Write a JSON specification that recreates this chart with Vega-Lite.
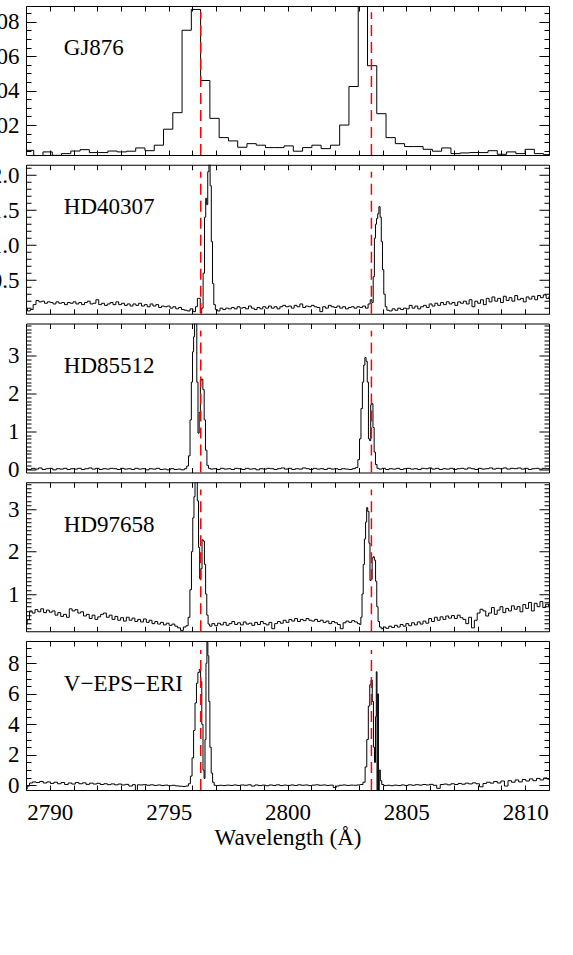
{
"$schema": "https://vega.github.io/schema/vega-lite/v6.json",
"padding": {"left": -22, "top": 5, "right": 5, "bottom": 5},
"background": "#ffffff",
"spacing": 9.75,
"bounds": "flush",
"config": {
  "view": {"stroke": "#000000", "strokeWidth": 1},
  "text": {"font": "Liberation Serif"},
  "axis": {"domain": false, "grid": false, "labelFont": "Liberation Serif", "labelFontSize": 23, "labelColor": "#000000", "tickColor": "#000000", "tickWidth": 1, "titleFont": "Liberation Serif", "titleFontSize": 23, "titleColor": "#000000", "titleFontWeight": "normal", "labelOverlap": false, "labelFlush": false}
},
"datasets": {
  "lines": [{"w": 2796.35}, {"w": 2803.53}],
  "gj": [{"w":2788.74,"f":0.0053},{"w":2789.13,"f":0.0053},{"w":2789.52,"f":0.0022},{"w":2789.91,"f":0.0044},{"w":2790.30,"f":0.0024},{"w":2790.69,"f":0.0034},{"w":2791.08,"f":0.0049},{"w":2791.47,"f":0.0057},{"w":2791.86,"f":0.0040},{"w":2792.25,"f":0.0040},{"w":2792.64,"f":0.0049},{"w":2793.03,"f":0.0044},{"w":2793.42,"f":0.0048},{"w":2793.81,"f":0.0067},{"w":2794.20,"f":0.0051},{"w":2794.59,"f":0.0083},{"w":2794.98,"f":0.0176},{"w":2795.37,"f":0.0272},{"w":2795.76,"f":0.0751},{"w":2796.15,"f":0.0872},{"w":2796.54,"f":0.0459},{"w":2796.93,"f":0.0239},{"w":2797.32,"f":0.0127},{"w":2797.71,"f":0.0108},{"w":2798.10,"f":0.0071},{"w":2798.49,"f":0.0092},{"w":2798.88,"f":0.0083},{"w":2799.27,"f":0.0069},{"w":2799.66,"f":0.0069},{"w":2800.05,"f":0.0079},{"w":2800.44,"f":0.0048},{"w":2800.83,"f":0.0069},{"w":2801.22,"f":0.0083},{"w":2801.61,"f":0.0063},{"w":2802.00,"f":0.0083},{"w":2802.39,"f":0.0200},{"w":2802.78,"f":0.0424},{"w":2803.17,"f":0.0910},{"w":2803.56,"f":0.0545},{"w":2803.95,"f":0.0266},{"w":2804.34,"f":0.0127},{"w":2804.73,"f":0.0092},{"w":2805.12,"f":0.0075},{"w":2805.51,"f":0.0075},{"w":2805.90,"f":0.0059},{"w":2806.29,"f":0.0048},{"w":2806.68,"f":0.0067},{"w":2807.07,"f":0.0034},{"w":2807.46,"f":0.0038},{"w":2807.85,"f":0.0040},{"w":2808.24,"f":0.0040},{"w":2808.63,"f":0.0051},{"w":2809.02,"f":0.0030},{"w":2809.41,"f":0.0044},{"w":2809.80,"f":0.0034},{"w":2810.19,"f":0.0059},{"w":2810.58,"f":0.0034},{"w":2810.97,"f":0.0028},{"w":2811.36,"f":0.0028}],
  "hd40": [{"w":2789.00,"f":0.10},{"w":2789.12,"f":0.06},{"w":2789.24,"f":0.08},{"w":2789.36,"f":0.15},{"w":2789.48,"f":0.21},{"w":2789.60,"f":0.19},{"w":2789.72,"f":0.20},{"w":2789.84,"f":0.17},{"w":2789.96,"f":0.19},{"w":2790.08,"f":0.18},{"w":2790.20,"f":0.16},{"w":2790.32,"f":0.19},{"w":2790.44,"f":0.17},{"w":2790.56,"f":0.18},{"w":2790.68,"f":0.15},{"w":2790.80,"f":0.18},{"w":2790.92,"f":0.17},{"w":2791.04,"f":0.19},{"w":2791.16,"f":0.16},{"w":2791.28,"f":0.18},{"w":2791.40,"f":0.15},{"w":2791.52,"f":0.18},{"w":2791.64,"f":0.20},{"w":2791.76,"f":0.16},{"w":2791.88,"f":0.17},{"w":2792.00,"f":0.22},{"w":2792.12,"f":0.15},{"w":2792.24,"f":0.17},{"w":2792.36,"f":0.14},{"w":2792.48,"f":0.16},{"w":2792.60,"f":0.18},{"w":2792.72,"f":0.15},{"w":2792.84,"f":0.19},{"w":2792.96,"f":0.15},{"w":2793.08,"f":0.17},{"w":2793.20,"f":0.14},{"w":2793.32,"f":0.16},{"w":2793.44,"f":0.13},{"w":2793.56,"f":0.16},{"w":2793.68,"f":0.14},{"w":2793.80,"f":0.17},{"w":2793.92,"f":0.13},{"w":2794.04,"f":0.15},{"w":2794.16,"f":0.12},{"w":2794.28,"f":0.16},{"w":2794.40,"f":0.13},{"w":2794.52,"f":0.15},{"w":2794.64,"f":0.11},{"w":2794.76,"f":0.13},{"w":2794.88,"f":0.12},{"w":2795.00,"f":0.13},{"w":2795.12,"f":0.10},{"w":2795.24,"f":0.12},{"w":2795.36,"f":0.09},{"w":2795.48,"f":0.11},{"w":2795.60,"f":0.08},{"w":2795.72,"f":0.07},{"w":2795.84,"f":0.06},{"w":2795.96,"f":0.09},{"w":2796.08,"f":0.05},{"w":2796.18,"f":0.12},{"w":2796.24,"f":0.24},{"w":2796.30,"f":0.24},{"w":2796.36,"f":0.03},{"w":2796.42,"f":0.10},{"w":2796.48,"f":0.60},{"w":2796.54,"f":1.40},{"w":2796.58,"f":1.67},{"w":2796.62,"f":1.58},{"w":2796.67,"f":2.05},{"w":2796.72,"f":2.40},{"w":2796.77,"f":1.85},{"w":2796.82,"f":1.05},{"w":2796.87,"f":0.45},{"w":2796.93,"f":0.15},{"w":2797.00,"f":0.08},{"w":2797.10,"f":0.06},{"w":2797.22,"f":0.10},{"w":2797.34,"f":0.08},{"w":2797.46,"f":0.10},{"w":2797.58,"f":0.09},{"w":2797.70,"f":0.11},{"w":2797.82,"f":0.09},{"w":2797.94,"f":0.12},{"w":2798.06,"f":0.10},{"w":2798.18,"f":0.11},{"w":2798.30,"f":0.09},{"w":2798.42,"f":0.13},{"w":2798.54,"f":0.10},{"w":2798.66,"f":0.08},{"w":2798.78,"f":0.11},{"w":2798.90,"f":0.09},{"w":2799.02,"f":0.12},{"w":2799.14,"f":0.10},{"w":2799.26,"f":0.13},{"w":2799.38,"f":0.10},{"w":2799.50,"f":0.12},{"w":2799.62,"f":0.09},{"w":2799.74,"f":0.12},{"w":2799.86,"f":0.14},{"w":2799.98,"f":0.12},{"w":2800.10,"f":0.13},{"w":2800.22,"f":0.10},{"w":2800.34,"f":0.14},{"w":2800.46,"f":0.12},{"w":2800.58,"f":0.16},{"w":2800.70,"f":0.11},{"w":2800.82,"f":0.13},{"w":2800.94,"f":0.12},{"w":2801.06,"f":0.14},{"w":2801.18,"f":0.12},{"w":2801.30,"f":0.11},{"w":2801.42,"f":0.05},{"w":2801.54,"f":0.12},{"w":2801.66,"f":0.10},{"w":2801.78,"f":0.14},{"w":2801.90,"f":0.12},{"w":2802.02,"f":0.11},{"w":2802.14,"f":0.13},{"w":2802.26,"f":0.10},{"w":2802.38,"f":0.12},{"w":2802.50,"f":0.09},{"w":2802.62,"f":0.11},{"w":2802.74,"f":0.12},{"w":2802.86,"f":0.10},{"w":2802.98,"f":0.12},{"w":2803.10,"f":0.11},{"w":2803.22,"f":0.13},{"w":2803.34,"f":0.10},{"w":2803.44,"f":0.16},{"w":2803.52,"f":0.22},{"w":2803.58,"f":0.18},{"w":2803.63,"f":0.55},{"w":2803.68,"f":1.10},{"w":2803.72,"f":1.30},{"w":2803.77,"f":1.38},{"w":2803.82,"f":1.45},{"w":2803.87,"f":1.55},{"w":2803.92,"f":1.40},{"w":2803.97,"f":1.05},{"w":2804.02,"f":0.65},{"w":2804.08,"f":0.30},{"w":2804.14,"f":0.12},{"w":2804.22,"f":0.07},{"w":2804.34,"f":0.06},{"w":2804.46,"f":0.09},{"w":2804.58,"f":0.07},{"w":2804.70,"f":0.10},{"w":2804.82,"f":0.08},{"w":2804.94,"f":0.10},{"w":2805.06,"f":0.09},{"w":2805.18,"f":0.14},{"w":2805.30,"f":0.10},{"w":2805.42,"f":0.13},{"w":2805.54,"f":0.09},{"w":2805.66,"f":0.12},{"w":2805.78,"f":0.14},{"w":2805.90,"f":0.11},{"w":2806.02,"f":0.16},{"w":2806.14,"f":0.13},{"w":2806.26,"f":0.17},{"w":2806.38,"f":0.14},{"w":2806.50,"f":0.18},{"w":2806.62,"f":0.15},{"w":2806.74,"f":0.19},{"w":2806.86,"f":0.16},{"w":2806.98,"f":0.18},{"w":2807.10,"f":0.14},{"w":2807.22,"f":0.19},{"w":2807.34,"f":0.17},{"w":2807.46,"f":0.20},{"w":2807.58,"f":0.16},{"w":2807.70,"f":0.22},{"w":2807.82,"f":0.12},{"w":2807.94,"f":0.20},{"w":2808.06,"f":0.17},{"w":2808.18,"f":0.22},{"w":2808.30,"f":0.15},{"w":2808.42,"f":0.24},{"w":2808.54,"f":0.19},{"w":2808.66,"f":0.26},{"w":2808.78,"f":0.20},{"w":2808.90,"f":0.24},{"w":2809.02,"f":0.18},{"w":2809.14,"f":0.27},{"w":2809.26,"f":0.21},{"w":2809.38,"f":0.25},{"w":2809.50,"f":0.20},{"w":2809.62,"f":0.28},{"w":2809.74,"f":0.22},{"w":2809.86,"f":0.24},{"w":2809.98,"f":0.19},{"w":2810.10,"f":0.26},{"w":2810.22,"f":0.23},{"w":2810.34,"f":0.27},{"w":2810.46,"f":0.22},{"w":2810.58,"f":0.28},{"w":2810.70,"f":0.25},{"w":2810.82,"f":0.29},{"w":2810.94,"f":0.24},{"w":2811.06,"f":0.27}],
  "hd85": [{"w":2789.00,"f":0.01},{"w":2789.15,"f":-0.01},{"w":2789.30,"f":0.02},{"w":2789.45,"f":0.00},{"w":2789.60,"f":0.03},{"w":2789.75,"f":-0.01},{"w":2789.90,"f":0.01},{"w":2790.05,"f":0.02},{"w":2790.20,"f":-0.02},{"w":2790.35,"f":0.01},{"w":2790.50,"f":0.00},{"w":2790.65,"f":0.02},{"w":2790.80,"f":-0.01},{"w":2790.95,"f":0.01},{"w":2791.10,"f":0.00},{"w":2791.25,"f":0.02},{"w":2791.40,"f":-0.01},{"w":2791.55,"f":0.01},{"w":2791.70,"f":0.03},{"w":2791.85,"f":0.00},{"w":2792.00,"f":0.02},{"w":2792.15,"f":-0.01},{"w":2792.30,"f":0.01},{"w":2792.45,"f":0.00},{"w":2792.60,"f":0.02},{"w":2792.75,"f":0.01},{"w":2792.90,"f":-0.01},{"w":2793.05,"f":0.02},{"w":2793.20,"f":0.00},{"w":2793.35,"f":0.01},{"w":2793.50,"f":-0.01},{"w":2793.65,"f":0.02},{"w":2793.80,"f":0.00},{"w":2793.95,"f":0.01},{"w":2794.10,"f":-0.02},{"w":2794.25,"f":0.01},{"w":2794.40,"f":0.00},{"w":2794.55,"f":0.02},{"w":2794.70,"f":-0.01},{"w":2794.85,"f":0.00},{"w":2795.00,"f":-0.02},{"w":2795.15,"f":0.01},{"w":2795.30,"f":-0.01},{"w":2795.45,"f":0.00},{"w":2795.60,"f":-0.02},{"w":2795.72,"f":0.01},{"w":2795.80,"f":0.08},{"w":2795.87,"f":0.35},{"w":2795.93,"f":1.30},{"w":2795.98,"f":2.30},{"w":2796.03,"f":3.10},{"w":2796.07,"f":3.50},{"w":2796.11,"f":4.20},{"w":2796.16,"f":4.20},{"w":2796.21,"f":2.30},{"w":2796.26,"f":0.95},{"w":2796.31,"f":1.50},{"w":2796.36,"f":2.35},{"w":2796.41,"f":2.38},{"w":2796.47,"f":2.10},{"w":2796.52,"f":1.30},{"w":2796.58,"f":0.50},{"w":2796.64,"f":0.10},{"w":2796.71,"f":0.02},{"w":2796.80,"f":0.00},{"w":2796.95,"f":0.01},{"w":2797.10,"f":-0.01},{"w":2797.25,"f":0.02},{"w":2797.40,"f":0.00},{"w":2797.55,"f":0.01},{"w":2797.70,"f":-0.01},{"w":2797.85,"f":0.02},{"w":2798.00,"f":0.01},{"w":2798.15,"f":-0.01},{"w":2798.30,"f":0.02},{"w":2798.45,"f":0.00},{"w":2798.60,"f":0.01},{"w":2798.75,"f":-0.02},{"w":2798.90,"f":0.01},{"w":2799.05,"f":0.00},{"w":2799.20,"f":0.02},{"w":2799.35,"f":0.01},{"w":2799.50,"f":-0.01},{"w":2799.65,"f":0.01},{"w":2799.80,"f":0.03},{"w":2799.95,"f":0.00},{"w":2800.10,"f":0.02},{"w":2800.25,"f":-0.01},{"w":2800.40,"f":0.01},{"w":2800.55,"f":0.00},{"w":2800.70,"f":0.03},{"w":2800.85,"f":0.01},{"w":2801.00,"f":-0.01},{"w":2801.15,"f":0.02},{"w":2801.30,"f":0.00},{"w":2801.45,"f":0.01},{"w":2801.60,"f":-0.01},{"w":2801.75,"f":0.02},{"w":2801.90,"f":0.00},{"w":2802.05,"f":0.01},{"w":2802.20,"f":-0.01},{"w":2802.35,"f":0.01},{"w":2802.50,"f":0.00},{"w":2802.65,"f":-0.01},{"w":2802.80,"f":0.01},{"w":2802.92,"f":0.04},{"w":2803.00,"f":0.25},{"w":2803.06,"f":0.80},{"w":2803.12,"f":1.60},{"w":2803.18,"f":2.30},{"w":2803.23,"f":2.75},{"w":2803.28,"f":2.95},{"w":2803.33,"f":2.85},{"w":2803.38,"f":2.30},{"w":2803.43,"f":0.80},{"w":2803.48,"f":0.75},{"w":2803.52,"f":1.70},{"w":2803.57,"f":1.73},{"w":2803.62,"f":1.10},{"w":2803.67,"f":0.45},{"w":2803.73,"f":0.12},{"w":2803.80,"f":0.02},{"w":2803.90,"f":0.00},{"w":2804.05,"f":0.02},{"w":2804.20,"f":-0.01},{"w":2804.35,"f":0.01},{"w":2804.50,"f":0.00},{"w":2804.65,"f":0.02},{"w":2804.80,"f":-0.01},{"w":2804.95,"f":0.01},{"w":2805.10,"f":0.02},{"w":2805.25,"f":0.00},{"w":2805.40,"f":0.01},{"w":2805.55,"f":-0.01},{"w":2805.70,"f":0.02},{"w":2805.85,"f":0.01},{"w":2806.00,"f":0.03},{"w":2806.15,"f":0.00},{"w":2806.30,"f":0.02},{"w":2806.45,"f":-0.01},{"w":2806.60,"f":0.01},{"w":2806.75,"f":0.00},{"w":2806.90,"f":0.02},{"w":2807.05,"f":-0.01},{"w":2807.20,"f":0.01},{"w":2807.35,"f":0.02},{"w":2807.50,"f":0.00},{"w":2807.65,"f":0.03},{"w":2807.80,"f":0.01},{"w":2807.95,"f":-0.01},{"w":2808.10,"f":0.02},{"w":2808.25,"f":0.00},{"w":2808.40,"f":0.01},{"w":2808.55,"f":0.03},{"w":2808.70,"f":0.00},{"w":2808.85,"f":0.02},{"w":2809.00,"f":0.01},{"w":2809.15,"f":0.03},{"w":2809.30,"f":0.00},{"w":2809.45,"f":0.02},{"w":2809.60,"f":0.01},{"w":2809.75,"f":0.03},{"w":2809.90,"f":0.00},{"w":2810.05,"f":0.02},{"w":2810.20,"f":-0.01},{"w":2810.35,"f":0.01},{"w":2810.50,"f":0.02},{"w":2810.65,"f":0.00},{"w":2810.80,"f":0.02},{"w":2810.95,"f":0.01},{"w":2811.05,"f":0.00}],
  "hd97": [{"w":2789.00,"f":0.28},{"w":2789.10,"f":0.40},{"w":2789.20,"f":0.60},{"w":2789.32,"f":0.55},{"w":2789.44,"f":0.63},{"w":2789.56,"f":0.58},{"w":2789.68,"f":0.65},{"w":2789.80,"f":0.56},{"w":2789.92,"f":0.62},{"w":2790.04,"f":0.57},{"w":2790.16,"f":0.60},{"w":2790.28,"f":0.50},{"w":2790.40,"f":0.56},{"w":2790.52,"f":0.47},{"w":2790.64,"f":0.52},{"w":2790.76,"f":0.45},{"w":2790.88,"f":0.65},{"w":2791.00,"f":0.60},{"w":2791.12,"f":0.63},{"w":2791.24,"f":0.55},{"w":2791.36,"f":0.58},{"w":2791.48,"f":0.48},{"w":2791.60,"f":0.52},{"w":2791.72,"f":0.42},{"w":2791.84,"f":0.50},{"w":2791.96,"f":0.40},{"w":2792.08,"f":0.46},{"w":2792.20,"f":0.52},{"w":2792.32,"f":0.55},{"w":2792.44,"f":0.45},{"w":2792.56,"f":0.50},{"w":2792.68,"f":0.40},{"w":2792.80,"f":0.47},{"w":2792.92,"f":0.38},{"w":2793.04,"f":0.44},{"w":2793.16,"f":0.36},{"w":2793.28,"f":0.45},{"w":2793.40,"f":0.38},{"w":2793.52,"f":0.43},{"w":2793.64,"f":0.35},{"w":2793.76,"f":0.40},{"w":2793.88,"f":0.34},{"w":2794.00,"f":0.41},{"w":2794.12,"f":0.33},{"w":2794.24,"f":0.38},{"w":2794.36,"f":0.30},{"w":2794.48,"f":0.35},{"w":2794.60,"f":0.29},{"w":2794.72,"f":0.33},{"w":2794.84,"f":0.27},{"w":2794.96,"f":0.31},{"w":2795.08,"f":0.26},{"w":2795.20,"f":0.29},{"w":2795.32,"f":0.24},{"w":2795.44,"f":0.20},{"w":2795.56,"f":0.14},{"w":2795.68,"f":0.22},{"w":2795.78,"f":0.25},{"w":2795.86,"f":0.45},{"w":2795.93,"f":1.10},{"w":2795.99,"f":2.00},{"w":2796.04,"f":2.80},{"w":2796.09,"f":3.30},{"w":2796.13,"f":3.80},{"w":2796.18,"f":3.80},{"w":2796.23,"f":3.20},{"w":2796.28,"f":2.10},{"w":2796.33,"f":1.36},{"w":2796.38,"f":1.60},{"w":2796.43,"f":2.28},{"w":2796.48,"f":2.25},{"w":2796.53,"f":1.70},{"w":2796.58,"f":1.00},{"w":2796.63,"f":0.50},{"w":2796.69,"f":0.29},{"w":2796.76,"f":0.24},{"w":2796.88,"f":0.30},{"w":2797.00,"f":0.25},{"w":2797.12,"f":0.31},{"w":2797.24,"f":0.27},{"w":2797.36,"f":0.33},{"w":2797.48,"f":0.26},{"w":2797.60,"f":0.30},{"w":2797.72,"f":0.35},{"w":2797.84,"f":0.28},{"w":2797.96,"f":0.32},{"w":2798.08,"f":0.27},{"w":2798.20,"f":0.34},{"w":2798.32,"f":0.29},{"w":2798.44,"f":0.31},{"w":2798.56,"f":0.26},{"w":2798.68,"f":0.33},{"w":2798.80,"f":0.28},{"w":2798.92,"f":0.35},{"w":2799.04,"f":0.30},{"w":2799.16,"f":0.27},{"w":2799.28,"f":0.33},{"w":2799.40,"f":0.18},{"w":2799.52,"f":0.30},{"w":2799.64,"f":0.35},{"w":2799.76,"f":0.31},{"w":2799.88,"f":0.38},{"w":2800.00,"f":0.33},{"w":2800.12,"f":0.40},{"w":2800.24,"f":0.36},{"w":2800.36,"f":0.42},{"w":2800.48,"f":0.35},{"w":2800.60,"f":0.40},{"w":2800.72,"f":0.37},{"w":2800.84,"f":0.42},{"w":2800.96,"f":0.38},{"w":2801.08,"f":0.36},{"w":2801.20,"f":0.40},{"w":2801.32,"f":0.35},{"w":2801.44,"f":0.38},{"w":2801.56,"f":0.33},{"w":2801.68,"f":0.36},{"w":2801.80,"f":0.30},{"w":2801.92,"f":0.35},{"w":2802.04,"f":0.32},{"w":2802.16,"f":0.28},{"w":2802.28,"f":0.18},{"w":2802.40,"f":0.32},{"w":2802.52,"f":0.36},{"w":2802.64,"f":0.33},{"w":2802.76,"f":0.37},{"w":2802.88,"f":0.34},{"w":2803.00,"f":0.30},{"w":2803.06,"f":0.28},{"w":2803.11,"f":0.45},{"w":2803.16,"f":1.00},{"w":2803.21,"f":1.70},{"w":2803.26,"f":2.30},{"w":2803.31,"f":2.70},{"w":2803.35,"f":3.04},{"w":2803.40,"f":2.95},{"w":2803.45,"f":2.20},{"w":2803.49,"f":1.32},{"w":2803.54,"f":1.35},{"w":2803.58,"f":1.85},{"w":2803.63,"f":1.88},{"w":2803.68,"f":1.80},{"w":2803.73,"f":1.30},{"w":2803.78,"f":0.70},{"w":2803.84,"f":0.35},{"w":2803.90,"f":0.22},{"w":2803.98,"f":0.18},{"w":2804.08,"f":0.22},{"w":2804.20,"f":0.19},{"w":2804.32,"f":0.24},{"w":2804.44,"f":0.21},{"w":2804.56,"f":0.26},{"w":2804.68,"f":0.22},{"w":2804.80,"f":0.28},{"w":2804.92,"f":0.24},{"w":2805.04,"f":0.30},{"w":2805.16,"f":0.25},{"w":2805.28,"f":0.32},{"w":2805.40,"f":0.27},{"w":2805.52,"f":0.34},{"w":2805.64,"f":0.29},{"w":2805.76,"f":0.36},{"w":2805.88,"f":0.31},{"w":2806.00,"f":0.42},{"w":2806.12,"f":0.35},{"w":2806.24,"f":0.45},{"w":2806.36,"f":0.38},{"w":2806.48,"f":0.46},{"w":2806.60,"f":0.40},{"w":2806.72,"f":0.48},{"w":2806.84,"f":0.43},{"w":2806.96,"f":0.49},{"w":2807.08,"f":0.42},{"w":2807.20,"f":0.50},{"w":2807.32,"f":0.44},{"w":2807.44,"f":0.40},{"w":2807.56,"f":0.30},{"w":2807.68,"f":0.45},{"w":2807.80,"f":0.20},{"w":2807.92,"f":0.38},{"w":2808.04,"f":0.55},{"w":2808.16,"f":0.64},{"w":2808.28,"f":0.60},{"w":2808.40,"f":0.48},{"w":2808.52,"f":0.55},{"w":2808.64,"f":0.68},{"w":2808.76,"f":0.52},{"w":2808.88,"f":0.62},{"w":2809.00,"f":0.70},{"w":2809.12,"f":0.56},{"w":2809.24,"f":0.66},{"w":2809.36,"f":0.60},{"w":2809.48,"f":0.72},{"w":2809.60,"f":0.64},{"w":2809.72,"f":0.70},{"w":2809.84,"f":0.58},{"w":2809.96,"f":0.75},{"w":2810.08,"f":0.66},{"w":2810.20,"f":0.80},{"w":2810.32,"f":0.60},{"w":2810.44,"f":0.78},{"w":2810.56,"f":0.70},{"w":2810.68,"f":0.82},{"w":2810.80,"f":0.68},{"w":2810.92,"f":0.76},{"w":2811.04,"f":0.72}],
  "eps": [{"w":2789.00,"f":-0.25},{"w":2789.10,"f":-0.05},{"w":2789.20,"f":0.15},{"w":2789.35,"f":0.22},{"w":2789.50,"f":0.18},{"w":2789.65,"f":0.25},{"w":2789.80,"f":0.15},{"w":2789.95,"f":0.22},{"w":2790.10,"f":0.12},{"w":2790.25,"f":0.20},{"w":2790.40,"f":0.10},{"w":2790.55,"f":0.18},{"w":2790.70,"f":0.05},{"w":2790.85,"f":0.15},{"w":2791.00,"f":0.08},{"w":2791.15,"f":0.18},{"w":2791.30,"f":0.10},{"w":2791.45,"f":0.16},{"w":2791.60,"f":0.06},{"w":2791.75,"f":0.14},{"w":2791.90,"f":0.08},{"w":2792.05,"f":0.13},{"w":2792.20,"f":0.05},{"w":2792.35,"f":0.10},{"w":2792.50,"f":0.04},{"w":2792.65,"f":0.09},{"w":2792.80,"f":0.03},{"w":2792.95,"f":0.08},{"w":2793.10,"f":0.02},{"w":2793.25,"f":0.06},{"w":2793.40,"f":-0.05},{"w":2793.55,"f":0.04},{"w":2793.65,"f":-0.35},{"w":2793.72,"f":0.03},{"w":2793.85,"f":0.02},{"w":2794.00,"f":0.04},{"w":2794.15,"f":0.00},{"w":2794.30,"f":0.03},{"w":2794.45,"f":-0.01},{"w":2794.60,"f":0.02},{"w":2794.75,"f":-0.02},{"w":2794.90,"f":0.01},{"w":2795.05,"f":-0.03},{"w":2795.20,"f":0.00},{"w":2795.35,"f":-0.04},{"w":2795.50,"f":-0.06},{"w":2795.65,"f":-0.08},{"w":2795.78,"f":-0.05},{"w":2795.88,"f":0.10},{"w":2795.95,"f":0.60},{"w":2796.02,"f":1.80},{"w":2796.08,"f":3.60},{"w":2796.14,"f":5.40},{"w":2796.20,"f":6.70},{"w":2796.26,"f":7.40},{"w":2796.32,"f":7.60},{"w":2796.37,"f":6.80},{"w":2796.42,"f":4.00},{"w":2796.47,"f":1.00},{"w":2796.51,"f":0.45},{"w":2796.55,"f":3.00},{"w":2796.59,"f":8.00},{"w":2796.63,"f":9.80},{"w":2796.67,"f":8.50},{"w":2796.71,"f":5.50},{"w":2796.76,"f":2.50},{"w":2796.82,"f":0.80},{"w":2796.88,"f":0.20},{"w":2796.95,"f":0.00},{"w":2797.05,"f":-0.02},{"w":2797.20,"f":0.00},{"w":2797.35,"f":-0.02},{"w":2797.50,"f":0.01},{"w":2797.65,"f":-0.01},{"w":2797.80,"f":0.02},{"w":2797.95,"f":-0.01},{"w":2798.10,"f":0.02},{"w":2798.25,"f":0.00},{"w":2798.40,"f":0.03},{"w":2798.55,"f":-0.05},{"w":2798.70,"f":0.02},{"w":2798.85,"f":-0.02},{"w":2799.00,"f":0.01},{"w":2799.15,"f":-0.03},{"w":2799.30,"f":0.02},{"w":2799.45,"f":-0.01},{"w":2799.60,"f":0.03},{"w":2799.75,"f":-0.02},{"w":2799.90,"f":0.01},{"w":2800.05,"f":-0.01},{"w":2800.20,"f":0.02},{"w":2800.35,"f":-0.01},{"w":2800.50,"f":0.03},{"w":2800.65,"f":0.00},{"w":2800.80,"f":0.02},{"w":2800.95,"f":-0.02},{"w":2801.10,"f":0.01},{"w":2801.25,"f":0.03},{"w":2801.40,"f":0.00},{"w":2801.55,"f":0.02},{"w":2801.70,"f":-0.01},{"w":2801.85,"f":0.01},{"w":2802.00,"f":-0.15},{"w":2802.10,"f":-0.05},{"w":2802.25,"f":0.00},{"w":2802.40,"f":0.02},{"w":2802.55,"f":-0.01},{"w":2802.70,"f":0.01},{"w":2802.85,"f":0.00},{"w":2803.00,"f":0.02},{"w":2803.12,"f":0.05},{"w":2803.23,"f":0.20},{"w":2803.30,"f":1.20},{"w":2803.37,"f":3.00},{"w":2803.43,"f":5.20},{"w":2803.49,"f":6.60},{"w":2803.54,"f":6.90},{"w":2803.59,"f":5.50},{"w":2803.64,"f":2.50},{"w":2803.68,"f":1.50},{"w":2803.72,"f":4.50},{"w":2803.75,"f":7.45},{"w":2803.78,"f":-0.40},{"w":2803.81,"f":6.00},{"w":2803.84,"f":-0.40},{"w":2803.88,"f":1.00},{"w":2803.93,"f":0.30},{"w":2804.00,"f":0.05},{"w":2804.10,"f":-0.02},{"w":2804.25,"f":0.00},{"w":2804.40,"f":-0.03},{"w":2804.55,"f":0.01},{"w":2804.70,"f":-0.02},{"w":2804.85,"f":0.02},{"w":2805.00,"f":-0.01},{"w":2805.15,"f":0.03},{"w":2805.30,"f":0.00},{"w":2805.45,"f":0.04},{"w":2805.60,"f":0.01},{"w":2805.75,"f":0.05},{"w":2805.90,"f":0.02},{"w":2806.05,"f":0.06},{"w":2806.20,"f":0.00},{"w":2806.35,"f":-0.20},{"w":2806.50,"f":0.05},{"w":2806.65,"f":0.08},{"w":2806.80,"f":0.03},{"w":2806.95,"f":0.10},{"w":2807.10,"f":0.05},{"w":2807.25,"f":0.12},{"w":2807.40,"f":0.07},{"w":2807.55,"f":0.14},{"w":2807.70,"f":0.09},{"w":2807.85,"f":0.16},{"w":2808.00,"f":0.10},{"w":2808.15,"f":-0.10},{"w":2808.30,"f":0.12},{"w":2808.45,"f":0.20},{"w":2808.60,"f":0.14},{"w":2808.75,"f":0.25},{"w":2808.90,"f":0.15},{"w":2809.05,"f":0.28},{"w":2809.20,"f":-0.05},{"w":2809.35,"f":0.30},{"w":2809.50,"f":0.20},{"w":2809.65,"f":0.35},{"w":2809.80,"f":0.22},{"w":2809.95,"f":0.38},{"w":2810.10,"f":0.28},{"w":2810.25,"f":0.42},{"w":2810.40,"f":0.30},{"w":2810.55,"f":0.45},{"w":2810.70,"f":0.35},{"w":2810.85,"f":0.48},{"w":2811.00,"f":0.40}]
},
"vconcat": [
 {"width": 523, "height": 149, "resolve": {"axis": {"x": "independent", "y": "independent"}},
  "layer": [
   {"data": {"name": "gj"}, "mark": {"type": "line", "interpolate": "step", "stroke": "#000000", "strokeWidth": 1, "clip": true},
    "encoding": {"x": {"field": "w", "type": "quantitative", "scale": {"domain": [2789, 2811], "nice": false, "zero": false}, "axis": {"orient": "bottom", "values": [2789,2790,2791,2792,2793,2794,2795,2796,2797,2798,2799,2800,2801,2802,2803,2804,2805,2806,2807,2808,2809,2810,2811], "tickSize": -5, "labels": false, "title": null}},
     "y": {"field": "f", "type": "quantitative", "scale": {"domain": [0.0026, 0.0892], "nice": false, "zero": false}, "axis": {"orient": "left", "values": [0.02, 0.04, 0.06, 0.08], "format": ".2f", "tickSize": -10, "labelPadding": 17, "title": null}}}},
   {"data": {"values": [{"name": "GJ876", "w": 2790.59, "f": 0.0646}]}, "mark": {"type": "point", "opacity": 0},
    "encoding": {"x": {"field": "w", "type": "quantitative", "scale": {"domain": [2789, 2811], "nice": false, "zero": false}, "axis": {"orient": "top", "values": [2789,2790,2791,2792,2793,2794,2795,2796,2797,2798,2799,2800,2801,2802,2803,2804,2805,2806,2807,2808,2809,2810,2811], "tickSize": -5, "labels": false, "title": null}},
     "y": {"field": "f", "type": "quantitative", "scale": {"domain": [0.0026, 0.0892], "nice": false, "zero": false}, "axis": {"orient": "right", "values": [0.02, 0.04, 0.06, 0.08], "tickSize": -10, "labels": false, "title": null}}}},
   {"data": {"values": [{"name": "GJ876", "w": 2790.59, "f": 0.0646}]}, "mark": {"type": "point", "opacity": 0},
    "encoding": {"x": {"field": "w", "type": "quantitative", "scale": {"domain": [2789, 2811], "nice": false, "zero": false}, "axis": null},
     "y": {"field": "f", "type": "quantitative", "scale": {"domain": [0.0026, 0.0892], "nice": false, "zero": false}, "axis": {"orient": "left", "values": [0.005,0.01,0.015,0.025,0.03,0.035,0.045,0.05,0.055,0.065,0.07,0.075,0.085], "tickSize": -5, "labels": false, "title": null}}}},
   {"data": {"values": [{"name": "GJ876", "w": 2790.59, "f": 0.0646}]}, "mark": {"type": "point", "opacity": 0},
    "encoding": {"x": {"field": "w", "type": "quantitative", "scale": {"domain": [2789, 2811], "nice": false, "zero": false}, "axis": null},
     "y": {"field": "f", "type": "quantitative", "scale": {"domain": [0.0026, 0.0892], "nice": false, "zero": false}, "axis": {"orient": "right", "values": [0.005,0.01,0.015,0.025,0.03,0.035,0.045,0.05,0.055,0.065,0.07,0.075,0.085], "tickSize": -5, "labels": false, "title": null}}}},
   {"data": {"name": "lines"}, "mark": {"type": "rule", "stroke": "#ff0000", "strokeDash": [11, 6], "strokeWidth": 1.5},
    "encoding": {"x": {"field": "w", "type": "quantitative", "scale": {"domain": [2789, 2811], "nice": false, "zero": false}, "axis": null},
     "y": {"datum": 0.0026, "type": "quantitative", "scale": {"domain": [0.0026, 0.0892], "nice": false, "zero": false}, "axis": null}, "y2": {"datum": 0.0855}}},
   {"data": {"values": [{"name": "GJ876", "w": 2790.59, "f": 0.0646}]}, "mark": {"type": "text", "align": "left", "baseline": "middle", "font": "Liberation Serif", "fontSize": 23, "color": "#000000"},
    "encoding": {"x": {"field": "w", "type": "quantitative", "scale": {"domain": [2789, 2811], "nice": false, "zero": false}, "axis": null},
     "y": {"field": "f", "type": "quantitative", "scale": {"domain": [0.0026, 0.0892], "nice": false, "zero": false}, "axis": null}, "text": {"field": "name"}}}
  ]},
 {"width": 523, "height": 149, "resolve": {"axis": {"x": "independent", "y": "independent"}},
  "layer": [
   {"data": {"name": "hd40"}, "mark": {"type": "line", "interpolate": "step", "stroke": "#000000", "strokeWidth": 1, "clip": true},
    "encoding": {"x": {"field": "w", "type": "quantitative", "scale": {"domain": [2789, 2811], "nice": false, "zero": false}, "axis": {"orient": "bottom", "values": [2789,2790,2791,2792,2793,2794,2795,2796,2797,2798,2799,2800,2801,2802,2803,2804,2805,2806,2807,2808,2809,2810,2811], "tickSize": -5, "labels": false, "title": null}},
     "y": {"field": "f", "type": "quantitative", "scale": {"domain": [0.02, 2.15], "nice": false, "zero": false}, "axis": {"orient": "left", "values": [0.5, 1, 1.5, 2], "format": ".1f", "tickSize": -10, "labelPadding": 17, "title": null}}}},
   {"data": {"values": [{"name": "HD40307", "w": 2790.59, "f": 1.55}]}, "mark": {"type": "point", "opacity": 0},
    "encoding": {"x": {"field": "w", "type": "quantitative", "scale": {"domain": [2789, 2811], "nice": false, "zero": false}, "axis": {"orient": "top", "values": [2789,2790,2791,2792,2793,2794,2795,2796,2797,2798,2799,2800,2801,2802,2803,2804,2805,2806,2807,2808,2809,2810,2811], "tickSize": -5, "labels": false, "title": null}},
     "y": {"field": "f", "type": "quantitative", "scale": {"domain": [0.02, 2.15], "nice": false, "zero": false}, "axis": {"orient": "right", "values": [0.5, 1, 1.5, 2], "tickSize": -10, "labels": false, "title": null}}}},
   {"data": {"values": [{"name": "HD40307", "w": 2790.59, "f": 1.55}]}, "mark": {"type": "point", "opacity": 0},
    "encoding": {"x": {"field": "w", "type": "quantitative", "scale": {"domain": [2789, 2811], "nice": false, "zero": false}, "axis": null},
     "y": {"field": "f", "type": "quantitative", "scale": {"domain": [0.02, 2.15], "nice": false, "zero": false}, "axis": {"orient": "left", "values": [0.1,0.2,0.3,0.4,0.6,0.7,0.8,0.9,1.1,1.2,1.3,1.4,1.6,1.7,1.8,1.9,2.1], "tickSize": -5, "labels": false, "title": null}}}},
   {"data": {"values": [{"name": "HD40307", "w": 2790.59, "f": 1.55}]}, "mark": {"type": "point", "opacity": 0},
    "encoding": {"x": {"field": "w", "type": "quantitative", "scale": {"domain": [2789, 2811], "nice": false, "zero": false}, "axis": null},
     "y": {"field": "f", "type": "quantitative", "scale": {"domain": [0.02, 2.15], "nice": false, "zero": false}, "axis": {"orient": "right", "values": [0.1,0.2,0.3,0.4,0.6,0.7,0.8,0.9,1.1,1.2,1.3,1.4,1.6,1.7,1.8,1.9,2.1], "tickSize": -5, "labels": false, "title": null}}}},
   {"data": {"name": "lines"}, "mark": {"type": "rule", "stroke": "#ff0000", "strokeDash": [11, 6], "strokeWidth": 1.5},
    "encoding": {"x": {"field": "w", "type": "quantitative", "scale": {"domain": [2789, 2811], "nice": false, "zero": false}, "axis": null},
     "y": {"datum": 0.02, "type": "quantitative", "scale": {"domain": [0.02, 2.15], "nice": false, "zero": false}, "axis": null}, "y2": {"datum": 2.05}}},
   {"data": {"values": [{"name": "HD40307", "w": 2790.59, "f": 1.55}]}, "mark": {"type": "text", "align": "left", "baseline": "middle", "font": "Liberation Serif", "fontSize": 23, "color": "#000000"},
    "encoding": {"x": {"field": "w", "type": "quantitative", "scale": {"domain": [2789, 2811], "nice": false, "zero": false}, "axis": null},
     "y": {"field": "f", "type": "quantitative", "scale": {"domain": [0.02, 2.15], "nice": false, "zero": false}, "axis": null}, "text": {"field": "name"}}}
  ]},
 {"width": 523, "height": 149, "resolve": {"axis": {"x": "independent", "y": "independent"}},
  "layer": [
   {"data": {"name": "hd85"}, "mark": {"type": "line", "interpolate": "step", "stroke": "#000000", "strokeWidth": 1, "clip": true},
    "encoding": {"x": {"field": "w", "type": "quantitative", "scale": {"domain": [2789, 2811], "nice": false, "zero": false}, "axis": {"orient": "bottom", "values": [2789,2790,2791,2792,2793,2794,2795,2796,2797,2798,2799,2800,2801,2802,2803,2804,2805,2806,2807,2808,2809,2810,2811], "tickSize": -5, "labels": false, "title": null}},
     "y": {"field": "f", "type": "quantitative", "scale": {"domain": [-0.09, 3.85], "nice": false, "zero": false}, "axis": {"orient": "left", "values": [0, 1, 2, 3], "format": "d", "tickSize": -10, "labelPadding": 17, "title": null}}}},
   {"data": {"values": [{"name": "HD85512", "w": 2790.59, "f": 2.73}]}, "mark": {"type": "point", "opacity": 0},
    "encoding": {"x": {"field": "w", "type": "quantitative", "scale": {"domain": [2789, 2811], "nice": false, "zero": false}, "axis": {"orient": "top", "values": [2789,2790,2791,2792,2793,2794,2795,2796,2797,2798,2799,2800,2801,2802,2803,2804,2805,2806,2807,2808,2809,2810,2811], "tickSize": -5, "labels": false, "title": null}},
     "y": {"field": "f", "type": "quantitative", "scale": {"domain": [-0.09, 3.85], "nice": false, "zero": false}, "axis": {"orient": "right", "values": [0, 1, 2, 3], "tickSize": -10, "labels": false, "title": null}}}},
   {"data": {"values": [{"name": "HD85512", "w": 2790.59, "f": 2.73}]}, "mark": {"type": "point", "opacity": 0},
    "encoding": {"x": {"field": "w", "type": "quantitative", "scale": {"domain": [2789, 2811], "nice": false, "zero": false}, "axis": null},
     "y": {"field": "f", "type": "quantitative", "scale": {"domain": [-0.09, 3.85], "nice": false, "zero": false}, "axis": {"orient": "left", "values": [0.1,0.2,0.3,0.4,0.5,0.6,0.7,0.8,0.9,1.1,1.2,1.3,1.4,1.5,1.6,1.7,1.8,1.9,2.1,2.2,2.3,2.4,2.5,2.6,2.7,2.8,2.9,3.1,3.2,3.3,3.4,3.5,3.6,3.7,3.8], "tickSize": -5, "labels": false, "title": null}}}},
   {"data": {"values": [{"name": "HD85512", "w": 2790.59, "f": 2.73}]}, "mark": {"type": "point", "opacity": 0},
    "encoding": {"x": {"field": "w", "type": "quantitative", "scale": {"domain": [2789, 2811], "nice": false, "zero": false}, "axis": null},
     "y": {"field": "f", "type": "quantitative", "scale": {"domain": [-0.09, 3.85], "nice": false, "zero": false}, "axis": {"orient": "right", "values": [0.1,0.2,0.3,0.4,0.5,0.6,0.7,0.8,0.9,1.1,1.2,1.3,1.4,1.5,1.6,1.7,1.8,1.9,2.1,2.2,2.3,2.4,2.5,2.6,2.7,2.8,2.9,3.1,3.2,3.3,3.4,3.5,3.6,3.7,3.8], "tickSize": -5, "labels": false, "title": null}}}},
   {"data": {"name": "lines"}, "mark": {"type": "rule", "stroke": "#ff0000", "strokeDash": [11, 6], "strokeWidth": 1.5},
    "encoding": {"x": {"field": "w", "type": "quantitative", "scale": {"domain": [2789, 2811], "nice": false, "zero": false}, "axis": null},
     "y": {"datum": -0.09, "type": "quantitative", "scale": {"domain": [-0.09, 3.85], "nice": false, "zero": false}, "axis": null}, "y2": {"datum": 3.66}}},
   {"data": {"values": [{"name": "HD85512", "w": 2790.59, "f": 2.73}]}, "mark": {"type": "text", "align": "left", "baseline": "middle", "font": "Liberation Serif", "fontSize": 23, "color": "#000000"},
    "encoding": {"x": {"field": "w", "type": "quantitative", "scale": {"domain": [2789, 2811], "nice": false, "zero": false}, "axis": null},
     "y": {"field": "f", "type": "quantitative", "scale": {"domain": [-0.09, 3.85], "nice": false, "zero": false}, "axis": null}, "text": {"field": "name"}}}
  ]},
 {"width": 523, "height": 149, "resolve": {"axis": {"x": "independent", "y": "independent"}},
  "layer": [
   {"data": {"name": "hd97"}, "mark": {"type": "line", "interpolate": "step", "stroke": "#000000", "strokeWidth": 1, "clip": true},
    "encoding": {"x": {"field": "w", "type": "quantitative", "scale": {"domain": [2789, 2811], "nice": false, "zero": false}, "axis": {"orient": "bottom", "values": [2789,2790,2791,2792,2793,2794,2795,2796,2797,2798,2799,2800,2801,2802,2803,2804,2805,2806,2807,2808,2809,2810,2811], "tickSize": -5, "labels": false, "title": null}},
     "y": {"field": "f", "type": "quantitative", "scale": {"domain": [0.12, 3.64], "nice": false, "zero": false}, "axis": {"orient": "left", "values": [1, 2, 3], "format": "d", "tickSize": -10, "labelPadding": 17, "title": null}}}},
   {"data": {"values": [{"name": "HD97658", "w": 2790.59, "f": 2.64}]}, "mark": {"type": "point", "opacity": 0},
    "encoding": {"x": {"field": "w", "type": "quantitative", "scale": {"domain": [2789, 2811], "nice": false, "zero": false}, "axis": {"orient": "top", "values": [2789,2790,2791,2792,2793,2794,2795,2796,2797,2798,2799,2800,2801,2802,2803,2804,2805,2806,2807,2808,2809,2810,2811], "tickSize": -5, "labels": false, "title": null}},
     "y": {"field": "f", "type": "quantitative", "scale": {"domain": [0.12, 3.64], "nice": false, "zero": false}, "axis": {"orient": "right", "values": [1, 2, 3], "tickSize": -10, "labels": false, "title": null}}}},
   {"data": {"values": [{"name": "HD97658", "w": 2790.59, "f": 2.64}]}, "mark": {"type": "point", "opacity": 0},
    "encoding": {"x": {"field": "w", "type": "quantitative", "scale": {"domain": [2789, 2811], "nice": false, "zero": false}, "axis": null},
     "y": {"field": "f", "type": "quantitative", "scale": {"domain": [0.12, 3.64], "nice": false, "zero": false}, "axis": {"orient": "left", "values": [0.2,0.3,0.4,0.5,0.6,0.7,0.8,0.9,1.1,1.2,1.3,1.4,1.5,1.6,1.7,1.8,1.9,2.1,2.2,2.3,2.4,2.5,2.6,2.7,2.8,2.9,3.1,3.2,3.3,3.4,3.5,3.6], "tickSize": -5, "labels": false, "title": null}}}},
   {"data": {"values": [{"name": "HD97658", "w": 2790.59, "f": 2.64}]}, "mark": {"type": "point", "opacity": 0},
    "encoding": {"x": {"field": "w", "type": "quantitative", "scale": {"domain": [2789, 2811], "nice": false, "zero": false}, "axis": null},
     "y": {"field": "f", "type": "quantitative", "scale": {"domain": [0.12, 3.64], "nice": false, "zero": false}, "axis": {"orient": "right", "values": [0.2,0.3,0.4,0.5,0.6,0.7,0.8,0.9,1.1,1.2,1.3,1.4,1.5,1.6,1.7,1.8,1.9,2.1,2.2,2.3,2.4,2.5,2.6,2.7,2.8,2.9,3.1,3.2,3.3,3.4,3.5,3.6], "tickSize": -5, "labels": false, "title": null}}}},
   {"data": {"name": "lines"}, "mark": {"type": "rule", "stroke": "#ff0000", "strokeDash": [11, 6], "strokeWidth": 1.5},
    "encoding": {"x": {"field": "w", "type": "quantitative", "scale": {"domain": [2789, 2811], "nice": false, "zero": false}, "axis": null},
     "y": {"datum": 0.12, "type": "quantitative", "scale": {"domain": [0.12, 3.64], "nice": false, "zero": false}, "axis": null}, "y2": {"datum": 3.47}}},
   {"data": {"values": [{"name": "HD97658", "w": 2790.59, "f": 2.64}]}, "mark": {"type": "text", "align": "left", "baseline": "middle", "font": "Liberation Serif", "fontSize": 23, "color": "#000000"},
    "encoding": {"x": {"field": "w", "type": "quantitative", "scale": {"domain": [2789, 2811], "nice": false, "zero": false}, "axis": null},
     "y": {"field": "f", "type": "quantitative", "scale": {"domain": [0.12, 3.64], "nice": false, "zero": false}, "axis": null}, "text": {"field": "name"}}}
  ]},
 {"width": 523, "height": 149, "resolve": {"axis": {"x": "independent", "y": "independent"}},
  "layer": [
   {"data": {"name": "eps"}, "mark": {"type": "line", "interpolate": "step", "stroke": "#000000", "strokeWidth": 1, "clip": true},
    "encoding": {"x": {"field": "w", "type": "quantitative", "scale": {"domain": [2789, 2811], "nice": false, "zero": false}, "axis": {"orient": "bottom", "values": [2789,2790,2791,2792,2793,2794,2795,2796,2797,2798,2799,2800,2801,2802,2803,2804,2805,2806,2807,2808,2809,2810,2811], "format": "d", "labelExpr": "datum.value % 5 === 0 ? datum.label : ''", "tickSize": -5, "labelPadding": 16.5, "title": "Wavelength (Å)", "titlePadding": 2}},
     "y": {"field": "f", "type": "quantitative", "scale": {"domain": [-0.31, 9.47], "nice": false, "zero": false}, "axis": {"orient": "left", "values": [0, 2, 4, 6, 8], "format": "d", "tickSize": -10, "labelPadding": 17, "title": null}}}},
   {"data": {"values": [{"name": "V−EPS−ERI", "w": 2790.59, "f": 6.68}]}, "mark": {"type": "point", "opacity": 0},
    "encoding": {"x": {"field": "w", "type": "quantitative", "scale": {"domain": [2789, 2811], "nice": false, "zero": false}, "axis": {"orient": "top", "values": [2789,2790,2791,2792,2793,2794,2795,2796,2797,2798,2799,2800,2801,2802,2803,2804,2805,2806,2807,2808,2809,2810,2811], "tickSize": -5, "labels": false, "title": null}},
     "y": {"field": "f", "type": "quantitative", "scale": {"domain": [-0.31, 9.47], "nice": false, "zero": false}, "axis": {"orient": "right", "values": [0, 2, 4, 6, 8], "tickSize": -10, "labels": false, "title": null}}}},
   {"data": {"values": [{"name": "V−EPS−ERI", "w": 2790.59, "f": 6.68}]}, "mark": {"type": "point", "opacity": 0},
    "encoding": {"x": {"field": "w", "type": "quantitative", "scale": {"domain": [2789, 2811], "nice": false, "zero": false}, "axis": null},
     "y": {"field": "f", "type": "quantitative", "scale": {"domain": [-0.31, 9.47], "nice": false, "zero": false}, "axis": {"orient": "left", "values": [0.5,1,1.5,2.5,3,3.5,4.5,5,5.5,6.5,7,7.5,8.5,9], "tickSize": -5, "labels": false, "title": null}}}},
   {"data": {"values": [{"name": "V−EPS−ERI", "w": 2790.59, "f": 6.68}]}, "mark": {"type": "point", "opacity": 0},
    "encoding": {"x": {"field": "w", "type": "quantitative", "scale": {"domain": [2789, 2811], "nice": false, "zero": false}, "axis": null},
     "y": {"field": "f", "type": "quantitative", "scale": {"domain": [-0.31, 9.47], "nice": false, "zero": false}, "axis": {"orient": "right", "values": [0.5,1,1.5,2.5,3,3.5,4.5,5,5.5,6.5,7,7.5,8.5,9], "tickSize": -5, "labels": false, "title": null}}}},
   {"data": {"name": "lines"}, "mark": {"type": "rule", "stroke": "#ff0000", "strokeDash": [11, 6], "strokeWidth": 1.5},
    "encoding": {"x": {"field": "w", "type": "quantitative", "scale": {"domain": [2789, 2811], "nice": false, "zero": false}, "axis": null},
     "y": {"datum": -0.31, "type": "quantitative", "scale": {"domain": [-0.31, 9.47], "nice": false, "zero": false}, "axis": null}, "y2": {"datum": 8.88}}},
   {"data": {"values": [{"name": "V−EPS−ERI", "w": 2790.59, "f": 6.68}]}, "mark": {"type": "text", "align": "left", "baseline": "middle", "font": "Liberation Serif", "fontSize": 23, "color": "#000000"},
    "encoding": {"x": {"field": "w", "type": "quantitative", "scale": {"domain": [2789, 2811], "nice": false, "zero": false}, "axis": null},
     "y": {"field": "f", "type": "quantitative", "scale": {"domain": [-0.31, 9.47], "nice": false, "zero": false}, "axis": null}, "text": {"field": "name"}}}
  ]}
]
}
